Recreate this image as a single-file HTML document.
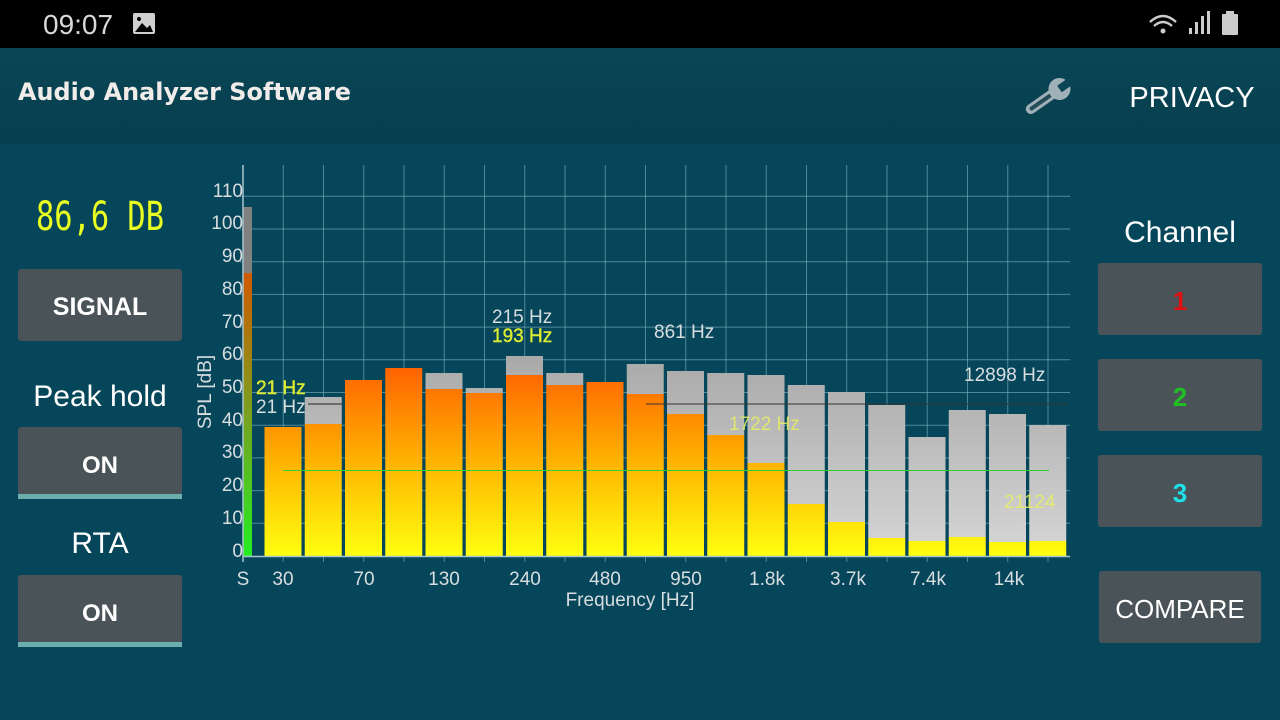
<!DOCTYPE html>
<html><head><meta charset="utf-8"><style>
html,body{margin:0;padding:0;background:#06465a;}
svg{display:block;font-family:"Liberation Sans","DejaVu Sans",sans-serif;}
</style></head><body>
<svg width="1280" height="720" viewBox="0 0 1280 720" xmlns="http://www.w3.org/2000/svg">
<defs>
<linearGradient id="og" gradientUnits="userSpaceOnUse" x1="0" y1="556" x2="0" y2="360">
<stop offset="0" stop-color="#ffff10"/><stop offset="0.45" stop-color="#ffb800"/><stop offset="1" stop-color="#ff5c00"/></linearGradient>
<linearGradient id="gg" gradientUnits="userSpaceOnUse" x1="0" y1="556" x2="0" y2="356">
<stop offset="0" stop-color="#d6d6d6"/><stop offset="1" stop-color="#a9a9a9"/></linearGradient>
<linearGradient id="lg" gradientUnits="userSpaceOnUse" x1="0" y1="556" x2="0" y2="273">
<stop offset="0" stop-color="#22ee22"/><stop offset="0.5" stop-color="#7aa020"/><stop offset="1" stop-color="#d05a00"/></linearGradient>
<linearGradient id="hd" x1="0" y1="0" x2="0" y2="1"><stop offset="0" stop-color="#0a4656"/><stop offset="1" stop-color="#073f4e"/></linearGradient>
</defs>
<rect x="0" y="0" width="1280" height="720" fill="#06465a"/>
<rect x="0" y="0" width="1280" height="48" fill="#000"/>
<text x="43" y="34" font-size="28" fill="#d8d8d8">09:07</text>
<rect x="133" y="13" width="22" height="21" rx="2" fill="#d0d0d0"/>
<polygon points="135,32 142,23 147,28 150,25 153,32" fill="#000"/><circle cx="139" cy="19" r="2" fill="#000"/>
<path d="M1150 22 Q1163 10 1176 22" stroke="#ccc" stroke-width="2.5" fill="none"/><path d="M1154 26 Q1163 18 1172 26" stroke="#ccc" stroke-width="2.5" fill="none"/><circle cx="1163" cy="31" r="2.5" fill="#ccc"/>
<rect x="1189" y="28" width="3" height="6" fill="#ccc"/><rect x="1195" y="22" width="3" height="12" fill="#ccc"/><rect x="1201" y="16" width="3" height="18" fill="#ccc"/><rect x="1207" y="11" width="3" height="23" fill="#ccc"/>
<rect x="1222" y="14" width="16" height="21" rx="1" fill="#ccc"/><rect x="1226" y="11" width="8" height="4" fill="#ccc"/>
<rect x="0" y="48" width="1280" height="96" fill="url(#hd)"/>
<text x="18" y="100" font-size="24" font-weight="bold" fill="#f0ecea" font-family="DejaVu Sans,sans-serif" textLength="333" lengthAdjust="spacingAndGlyphs">Audio Analyzer Software</text>
<g transform="translate(1048,97) rotate(-35)"><rect x="-26" y="-5" width="36" height="10" rx="5" fill="#9fb0b8"/><rect x="-22" y="-2" width="26" height="4" rx="2" fill="#244c58"/><circle cx="14" cy="0" r="11" fill="#9fb0b8"/><rect x="14" y="-4" width="14" height="8" fill="#0a4656"/></g>
<text x="1192" y="107" font-size="29" fill="#fff" text-anchor="middle">PRIVACY</text>

<text x="100" y="230" font-size="40" fill="#e8ff20" text-anchor="middle" font-family="DejaVu Sans Mono,monospace" textLength="128" lengthAdjust="spacingAndGlyphs">86,6 DB</text>
<rect x="18" y="269" width="164" height="72" rx="3" fill="#4a5358"/>
<text x="100" y="315" font-size="25" font-weight="bold" fill="#fff" text-anchor="middle">SIGNAL</text>
<text x="100" y="406" font-size="30" fill="#fff" text-anchor="middle">Peak hold</text>
<rect x="18" y="427" width="164" height="68" rx="3" fill="#4a5358"/><rect x="18" y="494" width="164" height="5" fill="#6aaeae"/>
<text x="100" y="473" font-size="24" font-weight="bold" fill="#fff" text-anchor="middle">ON</text>
<text x="100" y="553" font-size="30" fill="#fff" text-anchor="middle">RTA</text>
<rect x="18" y="575" width="164" height="68" rx="3" fill="#4a5358"/><rect x="18" y="642" width="164" height="5" fill="#6aaeae"/>
<text x="100" y="621" font-size="24" font-weight="bold" fill="#fff" text-anchor="middle">ON</text>

<text x="1180" y="242" font-size="30" fill="#fff" text-anchor="middle">Channel</text>
<rect x="1098" y="263" width="164" height="72" rx="3" fill="#4a5358"/><text x="1180" y="310" font-size="26" font-weight="bold" fill="#e01010" text-anchor="middle">1</text>
<rect x="1098" y="359" width="164" height="72" rx="3" fill="#4a5358"/><text x="1180" y="406" font-size="26" font-weight="bold" fill="#20c020" text-anchor="middle">2</text>
<rect x="1098" y="455" width="164" height="72" rx="3" fill="#4a5358"/><text x="1180" y="502" font-size="26" font-weight="bold" fill="#20e0e8" text-anchor="middle">3</text>
<rect x="1099" y="571" width="162" height="72" rx="3" fill="#4a5358"/><text x="1180" y="618" font-size="26" fill="#fff" text-anchor="middle">COMPARE</text>

<g stroke="#7fb6c2" stroke-opacity="0.6" stroke-width="1">
<line x1="283.25" y1="165" x2="283.25" y2="562"/><line x1="323.5" y1="165" x2="323.5" y2="562"/><line x1="363.75" y1="165" x2="363.75" y2="562"/><line x1="404" y1="165" x2="404" y2="562"/><line x1="444.25" y1="165" x2="444.25" y2="562"/><line x1="484.5" y1="165" x2="484.5" y2="562"/><line x1="524.75" y1="165" x2="524.75" y2="562"/><line x1="565" y1="165" x2="565" y2="562"/><line x1="605.25" y1="165" x2="605.25" y2="562"/><line x1="645.5" y1="165" x2="645.5" y2="562"/><line x1="685.75" y1="165" x2="685.75" y2="562"/><line x1="726" y1="165" x2="726" y2="562"/><line x1="766.25" y1="165" x2="766.25" y2="562"/><line x1="806.5" y1="165" x2="806.5" y2="562"/><line x1="846.75" y1="165" x2="846.75" y2="562"/><line x1="887" y1="165" x2="887" y2="562"/><line x1="927.25" y1="165" x2="927.25" y2="562"/><line x1="967.5" y1="165" x2="967.5" y2="562"/><line x1="1007.75" y1="165" x2="1007.75" y2="562"/><line x1="1048" y1="165" x2="1048" y2="562"/>
<line x1="240" y1="523.3" x2="1070" y2="523.3"/><line x1="240" y1="490.6" x2="1070" y2="490.6"/><line x1="240" y1="457.9" x2="1070" y2="457.9"/><line x1="240" y1="425.2" x2="1070" y2="425.2"/><line x1="240" y1="392.5" x2="1070" y2="392.5"/><line x1="240" y1="359.8" x2="1070" y2="359.8"/><line x1="240" y1="327.1" x2="1070" y2="327.1"/><line x1="240" y1="294.4" x2="1070" y2="294.4"/><line x1="240" y1="261.7" x2="1070" y2="261.7"/><line x1="240" y1="229" x2="1070" y2="229"/><line x1="240" y1="196.3" x2="1070" y2="196.3"/>
</g>
<g fill="url(#gg)">
<rect x="304.75" y="397" width="37" height="27"/><rect x="425.5" y="373" width="37" height="16"/><rect x="465.75" y="388" width="37" height="5"/><rect x="506" y="356" width="37" height="19"/><rect x="546.25" y="373" width="37" height="12"/><rect x="626.75" y="364" width="37" height="30"/><rect x="667" y="371" width="37" height="43"/><rect x="707.25" y="373" width="37" height="62"/><rect x="747.5" y="375" width="37" height="88"/><rect x="787.75" y="385" width="37" height="119"/><rect x="828" y="392" width="37" height="130"/><rect x="868.25" y="405" width="37" height="133"/><rect x="908.5" y="437" width="37" height="104"/><rect x="948.75" y="410" width="37" height="127"/><rect x="989" y="414" width="37" height="128"/><rect x="1029.25" y="425" width="37" height="116"/>
</g>
<g fill="url(#og)">
<rect x="264.5" y="427" width="37" height="129"/><rect x="304.75" y="424" width="37" height="132"/><rect x="345" y="380" width="37" height="176"/><rect x="385.25" y="368" width="37" height="188"/><rect x="425.5" y="389" width="37" height="167"/><rect x="465.75" y="393" width="37" height="163"/><rect x="506" y="375" width="37" height="181"/><rect x="546.25" y="385" width="37" height="171"/><rect x="586.5" y="382" width="37" height="174"/><rect x="626.75" y="394" width="37" height="162"/><rect x="667" y="414" width="37" height="142"/><rect x="707.25" y="435" width="37" height="121"/><rect x="747.5" y="463" width="37" height="93"/><rect x="787.75" y="504" width="37" height="52"/><rect x="828" y="522" width="37" height="34"/><rect x="868.25" y="538" width="37" height="18"/><rect x="908.5" y="541" width="37" height="15"/><rect x="948.75" y="537" width="37" height="19"/><rect x="989" y="542" width="37" height="14"/><rect x="1029.25" y="541" width="37" height="15"/>
</g>
<rect x="243" y="207" width="9" height="66" fill="#808080"/>
<rect x="243" y="273" width="9" height="283" fill="url(#lg)"/>
<line x1="283" y1="470.5" x2="1049" y2="470.5" stroke="#30d030" stroke-width="1"/>
<line x1="308" y1="404" x2="342" y2="404" stroke="#222" stroke-width="1"/>
<line x1="646" y1="404" x2="1068" y2="404" stroke="#333" stroke-width="1"/>
<line x1="243" y1="165" x2="243" y2="562" stroke="#a8c4cc" stroke-width="1.5"/>
<line x1="243" y1="556.5" x2="1070" y2="556.5" stroke="#a8c4cc" stroke-width="1.5"/>
<g font-size="19" fill="#d8dde0" text-anchor="end">
<text x="243" y="557">0</text><text x="243" y="524">10</text><text x="243" y="491">20</text><text x="243" y="458">30</text><text x="243" y="426">40</text><text x="243" y="393">50</text><text x="243" y="360">60</text><text x="243" y="328">70</text><text x="243" y="295">80</text><text x="243" y="262">90</text><text x="243" y="229">100</text><text x="243" y="197">110</text>
</g>
<g font-size="19" fill="#d8dde0" text-anchor="middle">
<text x="243" y="585">S</text><text x="283" y="585">30</text><text x="364" y="585">70</text><text x="444" y="585">130</text><text x="525" y="585">240</text><text x="605" y="585">480</text><text x="686" y="585">950</text><text x="767" y="585">1.8k</text><text x="848" y="585">3.7k</text><text x="928" y="585">7.4k</text><text x="1009" y="585">14k</text>
<text x="630" y="606">Frequency [Hz]</text>
<text transform="translate(211,392) rotate(-90)">SPL [dB]</text>
</g>
<g font-size="19">
<text x="256" y="413" fill="#d8dde0">21 Hz</text>
<text x="256" y="394" fill="#dcec30" stroke="#dcec30" stroke-width="0.4">21 Hz</text>
<text x="492" y="323" fill="#d8dde0">215 Hz</text>
<text x="492" y="342" fill="#dcec30" stroke="#dcec30" stroke-width="0.4">193 Hz</text>
<text x="654" y="338" fill="#d8dde0">861 Hz</text>
<text x="964" y="381" fill="#d8dde0">12898 Hz</text>
<text x="729" y="430" fill="#e8ee60" fill-opacity="0.85">1722 Hz</text>
<text x="1004" y="508" fill="#e8ee60" fill-opacity="0.85">21124</text>
</g>
</svg>
</body></html>
